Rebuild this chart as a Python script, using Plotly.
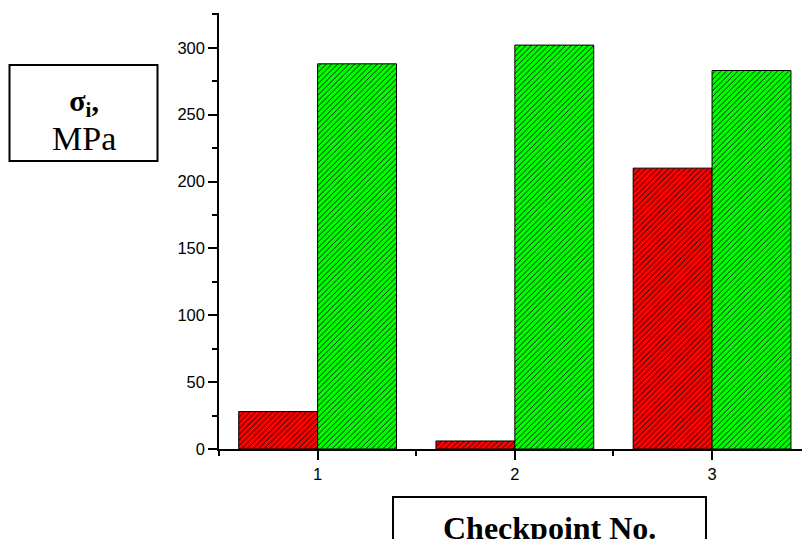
import plotly.graph_objects as go

checkpoints = [1, 2, 3]
series_red = [28, 6, 210]
series_green = [288, 302, 283]
y_tick_vals = [0, 50, 100, 150, 200, 250, 300]
x_tick_vals = [1, 2, 3]

W, H = 802, 539
L, R, T, B = 219, 0, 13, 90
PW, PH = W - L - R, H - T - B


def px(x):
    return (x - L) / PW


def py(y):
    return (H - B - y) / PH


fig = go.Figure()
fig.add_trace(go.Bar(
    x=checkpoints, y=series_red,
    marker=dict(color="#FF0000", line=dict(color="black", width=1),
                pattern=dict(shape="/", size=4, solidity=0.22,
                             fgcolor="black", bgcolor="#FF0000", fillmode="replace")),
    showlegend=False,
))
fig.add_trace(go.Bar(
    x=checkpoints, y=series_green,
    marker=dict(color="#00FF00", line=dict(color="black", width=1),
                pattern=dict(shape="/", size=4, solidity=0.22,
                             fgcolor="black", bgcolor="#00FF00", fillmode="replace")),
    showlegend=False,
))

axis_font = dict(family="Liberation Sans, Arial", size=16.5, color="black")

fig.update_layout(
    width=W, height=H,
    margin=dict(l=L, r=R, t=T, b=B, pad=0),
    paper_bgcolor="white", plot_bgcolor="white",
    barmode="group", bargap=0.2, bargroupgap=0,
    xaxis=dict(range=[0.5, 3.456], tickvals=x_tick_vals, ticktext=[str(v) for v in x_tick_vals],
               showgrid=False, zeroline=False, showline=True, linecolor="black", linewidth=1.5,
               ticks="outside", ticklen=9, tickwidth=1.5, tickcolor="black", tickfont=axis_font,
               minor=dict(ticks="outside", ticklen=5, tickwidth=1.5, tickcolor="black",
                          tickmode="linear", tick0=0.5, dtick=0.5)),
    yaxis=dict(range=[0, 326], tickvals=y_tick_vals,
               showgrid=False, zeroline=False, showline=True, linecolor="black", linewidth=1.5,
               ticks="outside", ticklen=9, tickwidth=1.5, tickcolor="black", tickfont=axis_font,
               minor=dict(ticks="outside", ticklen=5, tickwidth=1.5, tickcolor="black",
                          tickmode="linear", tick0=0, dtick=25)),
)

# label boxes
fig.add_shape(type="rect", xref="paper", yref="paper",
              x0=px(9.5), x1=px(157.5), y0=py(161), y1=py(65),
              line=dict(color="black", width=2), fillcolor="rgba(0,0,0,0)")
fig.add_shape(type="rect", xref="paper", yref="paper",
              x0=px(393), x1=px(706), y0=py(570), y1=py(497),
              line=dict(color="black", width=2), fillcolor="rgba(0,0,0,0)")

fig.add_annotation(xref="paper", yref="paper", x=px(83.5), y=py(121), xanchor="center", yanchor="middle",
                   text="<b>σ<sub>i</sub>,</b><br><span style='font-size:34px'>MPa</span>",
                   showarrow=False, align="center",
                   font=dict(family="Liberation Serif, Times New Roman", size=30, color="black"))
fig.add_annotation(xref="paper", yref="paper", x=px(549.5), y=py(528), xanchor="center", yanchor="middle",
                   text="<b>Checkpoint No.</b>", showarrow=False,
                   font=dict(family="Liberation Serif, Times New Roman", size=32, color="black"))

fig.write_html("out.html")
